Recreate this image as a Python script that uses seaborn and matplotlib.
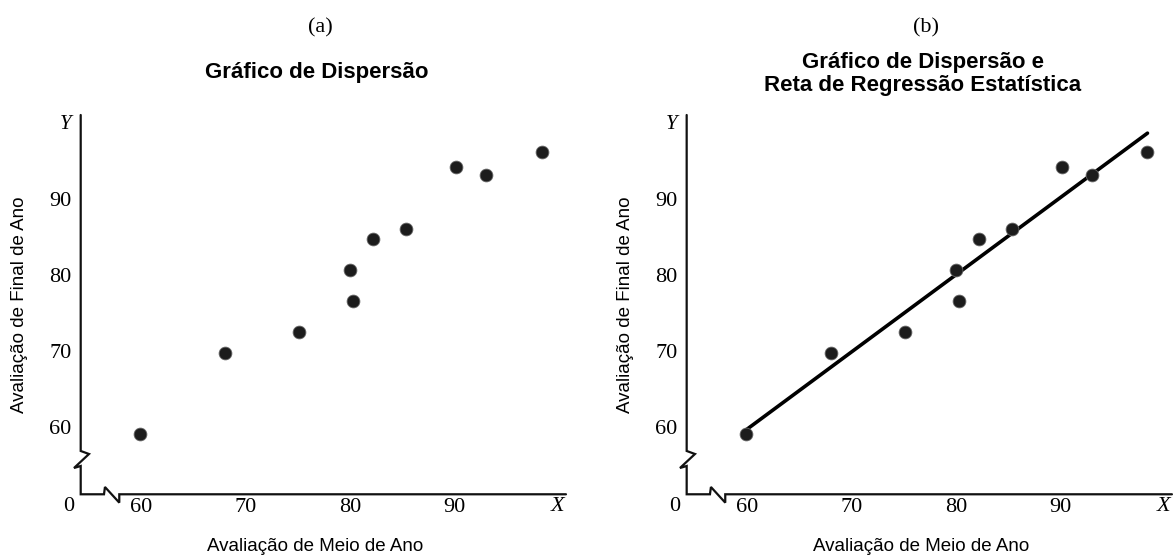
import numpy as np
import pandas as pd
import matplotlib
matplotlib.use('Agg')
import matplotlib.pyplot as plt
import seaborn as sns

# notas de 10 alunos
midyear = [59.8, 68.0, 75.1, 80.0, 80.3, 82.2, 85.4, 90.2, 93.1, 98.4]
final = [59.0, 69.7, 72.5, 80.7, 76.6, 84.8, 86.1, 94.2, 93.2, 96.2]
ticks = [60, 70, 80, 90]

panel_tags = ['(a)', '(b)']
panel_titles = ['Gráfico de Dispersão',
                'Gráfico de Dispersão e\nReta de Regressão Estatística']
x_label = 'Avaliação de Meio de Ano'
y_label = 'Avaliação de Final de Ano'

SERIF = 'Liberation Serif'
SANS = 'Liberation Sans'


def draw_broken_axes(ax):
    # eixos com quebra desenhados a mao (fracoes do eixo)
    fx = [0, 0, 0.0171, -0.0138, 0, 0, 0.048, 0.050, 0.0795, 0.0795, 1]
    fy = [1, 0.1142, 0.1062, 0.0693, 0.0746, 0, 0, 0.0192, -0.0221, 0, 0]
    ax.plot(fx, fy, transform=ax.transAxes, color='#111111', lw=1.6,
            clip_on=False, solid_joinstyle='miter')
    ax.text(-0.031, 0.974, 'Y', transform=ax.transAxes, ha='center', va='center',
            fontsize=15, family=SERIF, style='italic')
    ax.text(0.983, -0.033, 'X', transform=ax.transAxes, ha='center', va='center',
            fontsize=16, family=SERIF, style='italic')
    ax.text(-0.0256, -0.033, '0', transform=ax.transAxes, ha='center', va='center',
            fontsize=16, family=SERIF)


def style_axes(ax):
    ax.set_xlim(54.15, 100.75)
    ax.set_ylim(51.1, 101.1)
    ax.set_xticks(ticks)
    ax.set_yticks(ticks)
    for s in ax.spines.values():
        s.set_visible(False)
    ax.tick_params(direction='in', length=8.6, width=1.4, color='#111111',
                   labelcolor='black', labelsize=16)
    ax.tick_params(axis='x', pad=3)
    ax.tick_params(axis='y', pad=6.5)
    for lab in ax.get_xticklabels() + ax.get_yticklabels():
        lab.set_family(SERIF)
    ax.set_xlabel(x_label, fontsize=13.5, family=SANS, va='center', color='black')
    ax.set_ylabel(y_label, fontsize=13.5, family=SANS, va='center', color='black')
    ax.xaxis.set_label_coords(0.483, -0.138)
    ax.yaxis.set_label_coords(-0.127, 0.5)
    ax.grid(False)
    draw_broken_axes(ax)


def main():
    sns.set_style('white')
    plt.rcParams['text.color'] = 'black'
    plt.rcParams['axes.labelcolor'] = 'black'
    df = pd.DataFrame({'x': midyear, 'y': final})

    fig = plt.figure(figsize=(11.73, 5.55), dpi=100)
    ax_a = fig.add_axes([0.0688, 0.1094, 0.4137, 0.6834])
    ax_b = fig.add_axes([0.5854, 0.1094, 0.4137, 0.6834])

    for ax in (ax_a, ax_b):
        sns.scatterplot(data=df, x='x', y='y', ax=ax, s=85, color='#1c1c1c',
                        edgecolor='#666666', linewidth=0.6, zorder=3)

    # reta de regressao (MQO)
    sns.regplot(data=df, x='x', y='y', ax=ax_b, ci=None, scatter=False,
                truncate=True, line_kws=dict(color='black', lw=2.6))

    for ax in (ax_a, ax_b):
        style_axes(ax)

    ax_a.text(0.493, 1.229, panel_tags[0], transform=ax_a.transAxes,
              ha='center', va='center', fontsize=16, family=SERIF)
    ax_a.text(0.486, 1.113, panel_titles[0], transform=ax_a.transAxes,
              ha='center', va='center', fontsize=16, family=SANS, weight='bold')

    ax_b.text(0.493, 1.229, panel_tags[1], transform=ax_b.transAxes,
              ha='center', va='center', fontsize=16, family=SERIF)
    ax_b.text(0.486, 1.108, panel_titles[1], transform=ax_b.transAxes,
              ha='center', va='center', fontsize=16, family=SANS, weight='bold',
              linespacing=1.15)

    fig.savefig('out.png', dpi=100, facecolor='white')


if __name__ == "__main__":
    main()
